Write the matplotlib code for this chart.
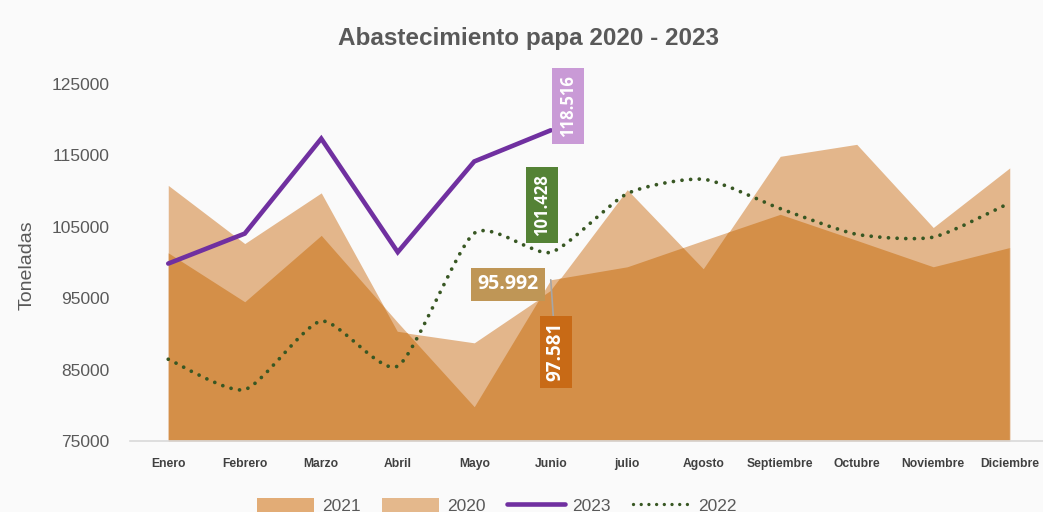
import numpy as np
import matplotlib
matplotlib.use('Agg')
import matplotlib.pyplot as plt
from matplotlib.path import Path
from matplotlib.patches import PathPatch, Patch
from matplotlib.lines import Line2D

# ---------------- data ----------------
meses = ['Enero', 'Febrero', 'Marzo', 'Abril', 'Mayo', 'Junio', 'julio',
         'Agosto', 'Septiembre', 'Octubre', 'Noviembre', 'Diciembre']
v2020 = [110800, 102650, 109750, 90300, 88750, 95992, 110200, 99050,
         114870, 116550, 104900, 113250]
v2021 = [101350, 94500, 103800, 91600, 79800, 97581, 99400, 103100,
         106750, 103100, 99400, 102100]
v2022 = [86450, 82200, 91800, 85500, 104100, 101428, 109650, 111650,
         107550, 103950, 103550, 108350]
v2023 = [99850, 104050, 117350, 101450, 114150, 118516]
yticks = [75000, 85000, 95000, 105000, 115000, 125000]
titulo = 'Abastecimiento papa 2020 - 2023'
ylabel = 'Toneladas'

# ---------------- style ----------------
BG = '#FAFAFA'
LIGHT = '#E3B68B'
DARK = '#D48F48'
PURPLE = '#7030A0'
GREEN = '#385723'
GREY = '#595959'

fig = plt.figure(figsize=(10.43, 5.12), dpi=100, facecolor=BG)
ax = fig.add_axes([130 / 1043, 71 / 512, 918 / 1043, 357 / 512])
ax.set_facecolor(BG)

x = np.arange(len(meses))
base = yticks[0]

# areas: light where only one year covers, dark where both overlap
p20 = ax.fill_between(x, base, v2020, color=LIGHT, lw=0, zorder=1)
p21 = ax.fill_between(x, base, v2021, color=LIGHT, lw=0, zorder=1)
ov = ax.fill_between(x, base, v2021, color=DARK, lw=0, zorder=2)
ov.set_clip_path(p20.get_paths()[0], ax.transData)

# 2022 smoothed dotted line (Bezier through the data points)
SMOOTH = 0.11
pts = np.column_stack([x, v2022]).astype(float)
ext = np.vstack([pts[0], pts, pts[-1]])
verts = [pts[0]]
codes = [Path.MOVETO]
for i in range(len(pts) - 1):
    p0, p1, p2, p3 = ext[i], ext[i + 1], ext[i + 2], ext[i + 3]
    verts += [p1 + (p2 - p0) * SMOOTH, p2 - (p3 - p1) * SMOOTH, p2]
    codes += [Path.CURVE4] * 3
DOT_LS = (0, (0.01, 2.3))
pp = PathPatch(Path(verts, codes), fill=False, edgecolor=GREEN, lw=2.7,
               linestyle=DOT_LS, capstyle='round', zorder=3)
ax.add_patch(pp)

# 2023 line
ax.plot(x[:len(v2023)], v2023, color=PURPLE, lw=3.3,
        solid_capstyle='round', solid_joinstyle='miter', zorder=4)

ax.set_xlim(-0.5, 11.5)
ax.set_ylim(yticks[0], yticks[-1])
ax.set_xticks(x)
ax.set_xticklabels(meses, fontsize=8.7, fontweight='bold', color='#404040',
                   family='Liberation Sans')
ax.set_yticks(yticks)
ax.set_yticklabels([str(t) for t in yticks], fontsize=12.5, color=GREY,
                   family='Liberation Sans')
ax.tick_params(axis='both', length=0)
ax.tick_params(axis='x', pad=12)
ax.tick_params(axis='y', pad=15)
for s in ['left', 'right', 'top']:
    ax.spines[s].set_visible(False)
ax.spines['bottom'].set_color('#D9D9D9')
ax.spines['bottom'].set_linewidth(1.2)

fig.text(0.507, 0.924, titulo, ha='center', va='center', fontsize=17.5,
         fontweight='bold', color=GREY, family='Liberation Sans')
fig.text(0.026, 0.482, ylabel, ha='center', va='center', rotation=90,
         fontsize=14, color=GREY, family='Liberation Sans')

def fmt(v):
    return f"{v:,.0f}".replace(',', '.')

j = 5
common = dict(textcoords='offset pixels', ha='center', va='center',
              color='white', fontweight='bold', family='Open Sans',
              annotation_clip=False, zorder=6)
ax.annotate(fmt(v2023[j]), xy=(j, v2023[j]), xytext=(17, 24), rotation=90,
            fontsize=12, bbox=dict(boxstyle='square,pad=0.42', fc='#C99AD6', ec='none'),
            **common)
ax.annotate(fmt(v2022[j]), xy=(j, v2022[j]), xytext=(-9, 47), rotation=90,
            fontsize=12, bbox=dict(boxstyle='square,pad=0.42', fc='#548235', ec='none'),
            **common)
ax.annotate(fmt(v2020[j]), xy=(j, v2020[j]), xytext=(-43, 7),
            fontsize=14, bbox=dict(boxstyle='square,pad=0.33', fc='#BF9656', ec='none'),
            **common)
ax.annotate(fmt(v2021[j]), xy=(j, v2021[j]), xytext=(5, -72), rotation=90,
            fontsize=13.5, bbox=dict(boxstyle='square,pad=0.33', fc='#C86A16', ec='none'),
            arrowprops=dict(arrowstyle='-', color='#A6A6A6', lw=1.2,
                            shrinkA=0, shrinkB=0),
            **common)

handles = [Patch(facecolor='#E2AC76', edgecolor='none'),
           Patch(facecolor='#E4B88C', edgecolor='none'),
           Line2D([], [], color=PURPLE, lw=3.3, solid_capstyle='round'),
           Line2D([], [], color=GREEN, lw=2.4, linestyle=(0, (0.01, 2.3)),
                  dash_capstyle='round')]
leg = fig.legend(handles, ['2021', '2020', '2023', '2022'], loc='center',
                 bbox_to_anchor=(0.476, 0.012), bbox_transform=fig.transFigure,
                 ncol=4, frameon=False, handlelength=3.3, handleheight=0.9,
                 handletextpad=0.45, columnspacing=1.25,
                 prop={'family': 'Liberation Sans', 'size': 12.5})
for t in leg.get_texts():
    t.set_color(GREY)

fig.savefig('out.png', dpi=100, facecolor=BG)
